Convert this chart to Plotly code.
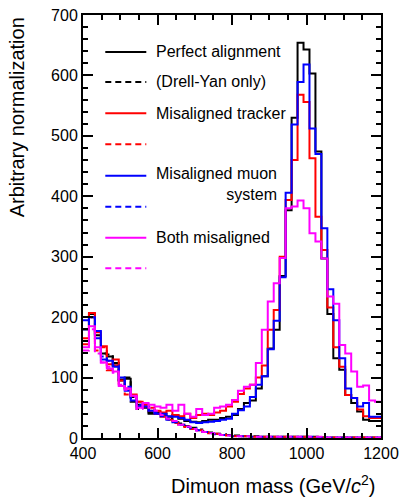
import plotly.graph_objects as go

# ---- data (bins of 16 GeV from 400 to 1200) ----
bin_low = 400
bin_width = 16
n_bins = 50

perfect = [180, 205, 170, 140, 135, 124, 97, 98, 68, 55, 52, 40, 42,
           40, 35, 38, 32, 28, 27, 26, 28, 30, 30, 33, 35,
           38, 48, 58, 62, 82, 102, 148, 179, 268,
           377, 530, 654, 643, 603, 474, 297, 205, 132, 113, 71, 58, 44, 30, 28, 28]
tracker = [165, 207, 175, 152, 122, 130, 95, 82, 72, 60, 55, 50, 45,
           42, 45, 38, 36, 40, 33, 38, 40, 38, 42, 45, 52,
           60, 73, 82, 88, 100, 120, 179, 212, 300,
           394, 460, 568, 556, 463, 366, 311, 216, 150, 118, 71, 66, 47, 36, 33, 33]
muon = [195, 200, 177, 130, 128, 118, 100, 78, 62, 52, 52, 45, 40,
        40, 36, 35, 33, 30, 26, 25, 26, 27, 28, 30, 32,
        40, 46, 52, 68, 88, 102, 147, 194, 266,
        406, 519, 589, 618, 512, 470, 347, 246, 195, 132, 82, 66, 52, 58, 35, 35]
both = [150, 185, 150, 125, 115, 110, 86, 82, 70, 50, 58, 55, 52,
        50, 55, 45, 55, 40, 35, 48, 38, 40, 50, 52, 55,
        63, 78, 85, 88, 124, 179, 226, 256, 298,
        380, 383, 393, 380, 339, 325, 297, 234, 222, 154, 140, 110, 85, 87, 62, 60]

perfect_dy = [180, 200, 165, 140, 138, 120, 95, 100, 60, 48, 50, 42, 40,
              36, 32, 28, 24, 20, 17, 14, 11, 9, 7, 6, 5,
              4, 4, 3, 3, 3, 2, 2, 2, 2, 2, 2, 2, 2, 2, 2,
              1, 1, 1, 1, 1, 1, 1, 1, 1, 1]
tracker_dy = [155, 200, 145, 150, 112, 120, 90, 72, 70, 60, 52, 45, 40,
              35, 30, 25, 22, 18, 15, 13, 10, 8, 7, 5, 4,
              3, 3, 3, 2, 2, 2, 2, 2, 2, 2, 2, 2, 2, 1, 1,
              1, 1, 1, 1, 1, 1, 1, 1, 1, 1]
muon_dy = [180, 195, 165, 135, 128, 120, 95, 85, 66, 55, 52, 46, 42,
           36, 30, 26, 22, 18, 16, 13, 10, 8, 6, 5, 4,
           3, 3, 3, 2, 2, 2, 2, 2, 2, 2, 2, 2, 2, 2, 1,
           1, 1, 1, 1, 1, 1, 1, 1, 1, 1]
both_dy = [145, 180, 140, 125, 118, 108, 88, 80, 68, 48, 55, 50, 45,
           38, 32, 28, 22, 19, 15, 12, 10, 8, 6, 5, 4,
           3, 3, 3, 2, 2, 2, 2, 2, 2, 2, 2, 2, 2, 2, 2,
           1, 1, 1, 1, 1, 1, 1, 1, 1, 1]

x_ticks = [400, 600, 800, 1000, 1200]
y_ticks = [0, 100, 200, 300, 400, 500, 600, 700]

series = [
    ("Perfect alignment", perfect, "#000000", "solid"),
    ("Perfect alignment (Drell-Yan only)", perfect_dy, "#000000", "6px,4px"),
    ("Misaligned tracker", tracker, "#ff0000", "solid"),
    ("Misaligned tracker (Drell-Yan only)", tracker_dy, "#ff0000", "6px,4px"),
    ("Misaligned muon system", muon, "#0000ff", "solid"),
    ("Misaligned muon system (Drell-Yan only)", muon_dy, "#0000ff", "6px,4px"),
    ("Both misaligned", both, "#ff00ff", "solid"),
    ("Both misaligned (Drell-Yan only)", both_dy, "#ff00ff", "6px,4px"),
]

edges = [bin_low + bin_width * k for k in range(n_bins + 1)]

FONT = "Liberation Sans, Arial, Helvetica, sans-serif"

fig = go.Figure()
for name, vals, col, dash in series:
    xs = edges[:-1] + [edges[-1]]
    ys = list(vals) + [vals[-1]]
    fig.add_trace(go.Scatter(x=xs, y=ys, mode="lines", name=name,
                             line=dict(color=col, width=2, dash=dash, shape="hv"),
                             showlegend=False, hoverinfo="skip"))

# ---- manual legend (layout decoration, paper coords) ----
leg_rows = [
    (0.9126, "#000000", "solid", "Perfect alignment"),
    (0.8418, "#000000", "6px,4px", "(Drell-Yan only)"),
    (0.7679, "#ff0000", "solid", "Misaligned tracker"),
    (0.6947, "#ff0000", "6px,4px", None),
    (0.6198, "#0000ff", "solid", None),
    (0.5466, "#0000ff", "6px,4px", None),
    (0.4734, "#ff00ff", "solid", "Both misaligned"),
    (0.4012, "#ff00ff", "6px,4px", None),
]
shapes = []
annotations = []
for yy, col, dash, txt in leg_rows:
    shapes.append(dict(type="line", xref="paper", yref="paper",
                       x0=0.0748, x1=0.2124, y0=yy, y1=yy,
                       line=dict(color=col, width=2, dash=dash)))
    if txt:
        annotations.append(dict(xref="paper", yref="paper", x=0.2393, y=yy,
                                xanchor="left", yanchor="middle", text=txt,
                                showarrow=False,
                                font=dict(family=FONT, size=16, color="black")))
annotations.append(dict(xref="paper", yref="paper", x=0.2393, y=0.5997,
                        xanchor="left", yanchor="middle", align="right",
                        text="Misaligned muon<br>system", showarrow=False,
                        font=dict(family=FONT, size=16, color="black")))

# axis titles
annotations.append(dict(xref="paper", yref="paper", x=0.991, y=-0.1105,
                        xanchor="right", yanchor="middle",
                        text="Dimuon mass (GeV/<i>c</i><sup>2</sup>)", showarrow=False,
                        font=dict(family=FONT, size=20, color="black")))
annotations.append(dict(xref="paper", yref="paper", x=-0.2205, y=1.0,
                        xanchor="center", yanchor="top", textangle=-90,
                        text="Arbitrary normalization", showarrow=False,
                        font=dict(family=FONT, size=20, color="black")))

axis_common = dict(showgrid=False, zeroline=False, showline=True, linecolor="black",
                   linewidth=2, mirror="allticks", ticks="inside", ticklen=10,
                   tickwidth=1.5, tickcolor="black", automargin=False,
                   tickfont=dict(family=FONT, size=16, color="black"))

fig.update_layout(
    width=402, height=497, autosize=False,
    margin=dict(l=83, r=21, t=15, b=59),
    paper_bgcolor="white", plot_bgcolor="white",
    shapes=shapes, annotations=annotations,
    xaxis=dict(range=[400, 1200], tickmode="array", tickvals=x_ticks,
               ticktext=[str(v) for v in x_ticks],
               minor=dict(dtick=50, tick0=400, ticks="inside", ticklen=5,
                          tickwidth=1.5, tickcolor="black"),
               **axis_common),
    yaxis=dict(range=[0, 700], tickmode="array", tickvals=y_ticks,
               ticktext=[str(v) for v in y_ticks],
               minor=dict(dtick=20, tick0=0, ticks="inside", ticklen=5,
                          tickwidth=1.5, tickcolor="black"),
               **axis_common),
)

fig.write_html("out.html",
               config={"responsive": False, "displayModeBar": False},
               post_script="document.body.style.margin='0';document.body.style.overflow='hidden';")
